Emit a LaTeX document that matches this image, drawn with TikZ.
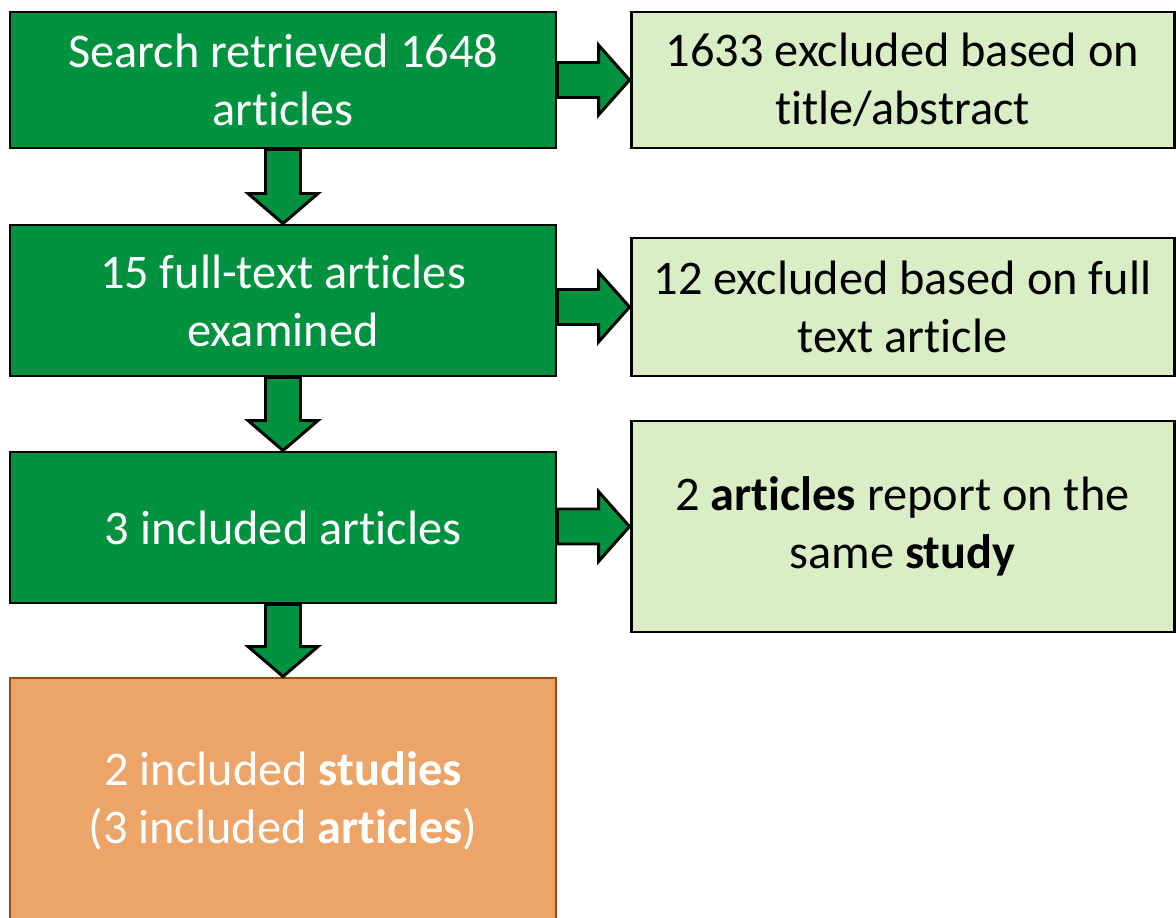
\documentclass[tikz,border=0pt]{standalone}
\usepackage{fontspec}
\setmainfont{Carlito}[Ligatures={NoCommon,NoContextual,NoRare},Contextuals=NoAlternate]
\usepackage{xcolor}
\usepackage{tikz}
\usetikzlibrary{positioning, calc}
\definecolor{boxgreen}{HTML}{00923F}
\definecolor{palegreen}{HTML}{D9EEC5}
\definecolor{peach}{HTML}{EDA468}
\definecolor{rust}{HTML}{9C4A0C}

\tikzset{
  mainbox/.style={draw=black, fill=boxgreen, line width=1.7pt, text=white, align=center,
    minimum width=10.92cm, font=\fontsize{27.5}{33}\selectfont},
  sidebox/.style={draw=black, fill=palegreen, line width=1.7pt, text=black, align=center,
    minimum width=10.86cm, font=\fontsize{27.5}{33}\selectfont},
  finalbox/.style={draw=rust, fill=peach, line width=1.7pt, text=white, align=center,
    minimum width=10.92cm, font=\fontsize{27.5}{33}\selectfont},
  blockarrow/.style={draw=black, fill=boxgreen, line width=1.7pt, line join=miter}
}
\newcommand{\downblock}[2]{%
  \filldraw[blockarrow] ($(#1.south)+(-0.35,0)$) -- ($(#2.north)+(-0.35,0.6)$)
    -- ($(#2.north)+(-0.7,0.6)$) -- (#2.north) -- ($(#2.north)+(0.7,0.6)$)
    -- ($(#2.north)+(0.35,0.6)$) -- ($(#1.south)+(0.35,0)$) -- cycle;}
\newcommand{\rightblock}[2]{%
  \filldraw[blockarrow] ($(#1.east |- #2.west)+(0,0.35)$) -- ($(#2.west)+(-0.62,0.35)$)
    -- ($(#2.west)+(-0.62,0.7)$) -- (#2.west) -- ($(#2.west)+(-0.62,-0.7)$)
    -- ($(#2.west)+(-0.62,-0.35)$) -- ($(#1.east |- #2.west)+(0,-0.35)$) -- cycle;}

\begin{document}
\begin{tikzpicture}
  \useasboundingbox (0,0) rectangle (23.52,-18.36);
  \clip (0,0) rectangle (23.52,-18.36);
  % left column
  \node[mainbox, minimum height=2.72cm] (search) at (5.66,-1.6) {Search retrieved 1648\\articles};
  \node[mainbox, minimum height=3.02cm] (fulltext) at (5.66,-6.01) {15 full-text articles\\examined};
  \node[mainbox, minimum height=3.02cm] (included) at (5.66,-10.55) {3 included articles};
  \node[finalbox, minimum height=4.92cm] (studies) at (5.66,-16.02)
    {2 included \textbf{studies}\\(3 included \textbf{articles})};
  % right column
  \node[sidebox, minimum height=2.72cm] (exclabs) at (18.05,-1.6) {1633 excluded based on\\title/abstract};
  \node[sidebox, minimum height=2.76cm] (excfull) at (18.05,-6.14) {12 excluded based on full\\text article};
  \node[sidebox, minimum height=4.22cm] (samestudy) at (18.05,-10.53)
    {2 \textbf{articles} report on the\\same \textbf{study}};
  % block arrows
  \downblock{search}{fulltext}
  \downblock{fulltext}{included}
  \downblock{included}{studies}
  \rightblock{search}{exclabs}
  \rightblock{fulltext}{excfull}
  \rightblock{included}{samestudy}
\end{tikzpicture}
\end{document}
